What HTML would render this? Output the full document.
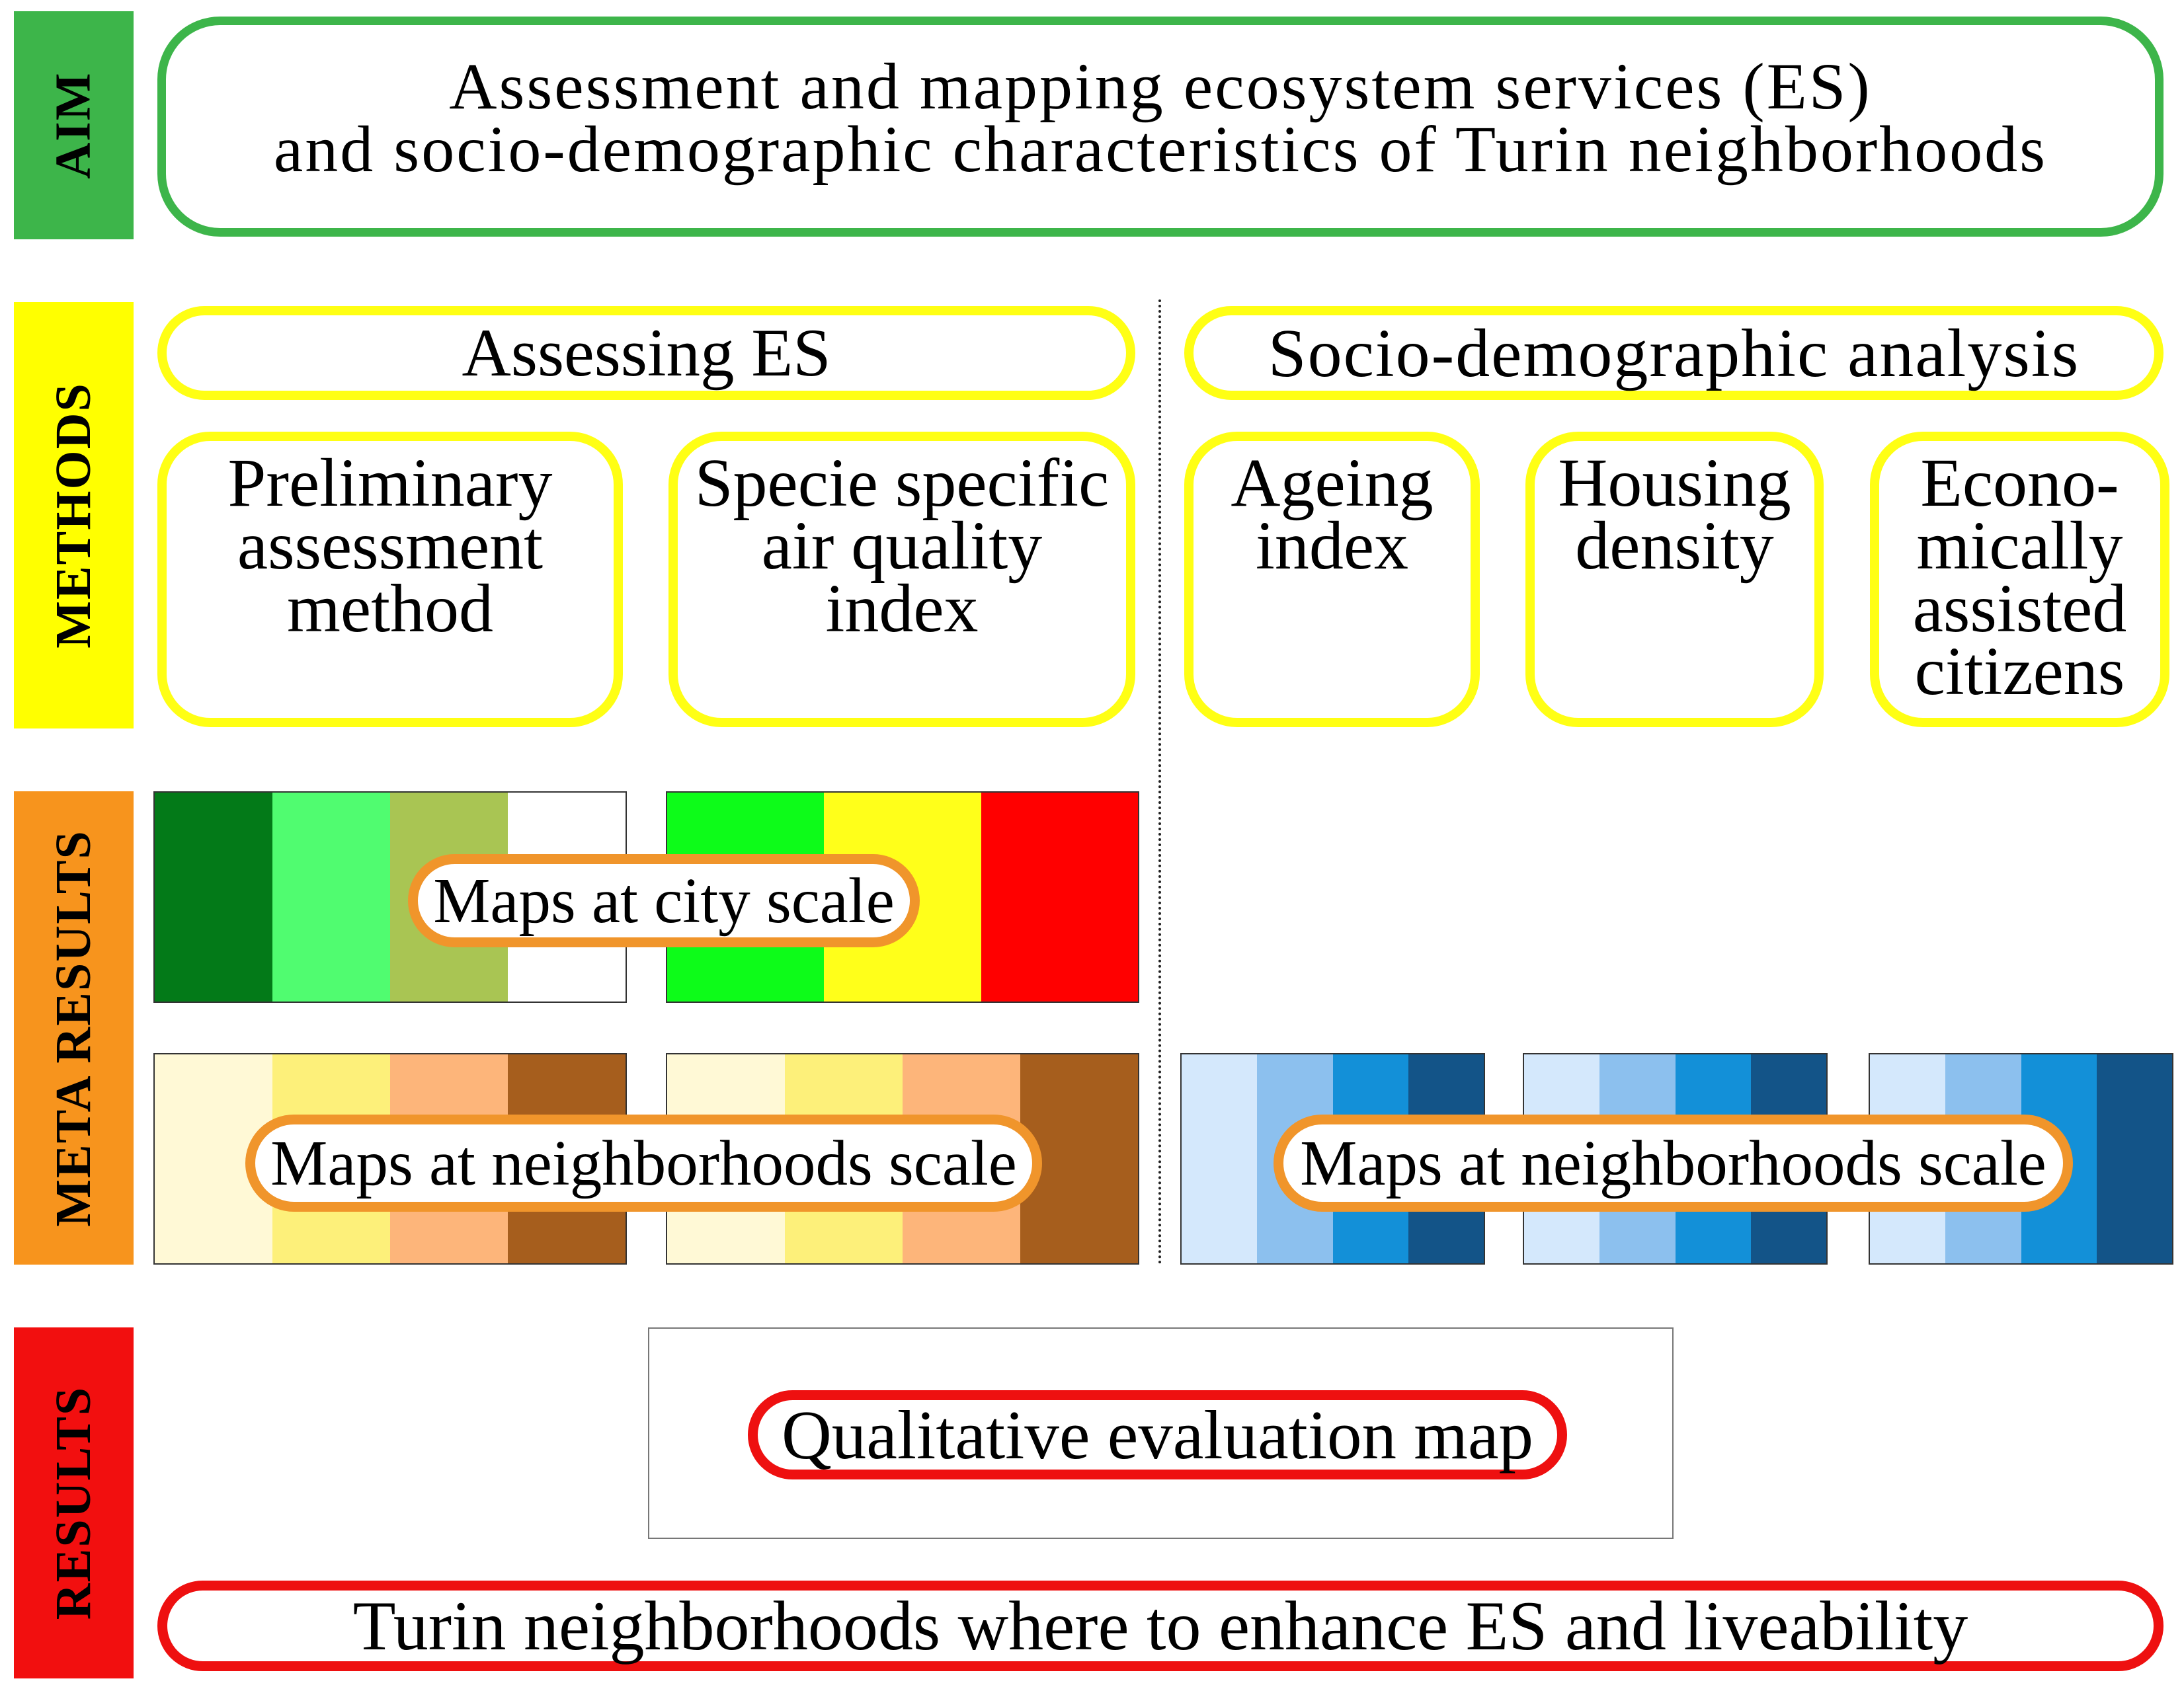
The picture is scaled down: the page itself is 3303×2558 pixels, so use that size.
<!DOCTYPE html>
<html><head><meta charset="utf-8"><style>
*{margin:0;padding:0;box-sizing:border-box}
body{width:3303px;height:2558px;background:#fff;position:relative;overflow:hidden;font-family:"Liberation Serif",serif;color:#000}
.a{position:absolute}
.bar{position:absolute;left:21px;width:181px;display:flex;align-items:center;justify-content:center}
.bar span{transform:rotate(-90deg);white-space:nowrap;font-weight:bold;font-size:76px;letter-spacing:2px}
.box{position:absolute;border-style:solid;background:#fff;display:flex;flex-direction:column;align-items:center;text-align:center}
.y{border-color:#ffff14;border-width:14px}
.sm{border-radius:80px;padding-top:16px;font-size:104px;line-height:95px;white-space:nowrap}
.stripes{position:absolute;display:flex;border:2px solid #333}
.stripes div{flex:1}
.pill{position:absolute;background:#fff;border-radius:200px;display:flex;align-items:center;justify-content:center;white-space:nowrap;font-size:97px;letter-spacing:0}
.o{border:15px solid #f0952b}
.r{border:15px solid #ee1010}
</style></head><body>
<div class="bar" style="top:17px;height:345px;background:#3db54a"><span>AIM</span></div>
<div class="bar" style="top:457px;height:645px;background:#ffff00"><span>METHODS</span></div>
<div class="bar" style="top:1197px;height:716px;background:#f7941d"><span>META RESULTS</span></div>
<div class="bar" style="top:2008px;height:531px;background:#f20f0f"><span>RESULTS</span></div>

<div class="box" style="left:238px;top:25px;width:3034px;height:333px;border:13px solid #3db54a;border-radius:95px;justify-content:center;font-size:100px;line-height:95px;letter-spacing:3px">
<div style="margin-top:-28px">Assessment and mapping ecosystem services (ES)<br>and socio-demographic characteristics of Turin neighborhoods</div></div>

<div class="box y" style="left:238px;top:463px;width:1479px;height:142px;border-radius:80px;justify-content:center;font-size:103px">Assessing ES</div>
<div class="box y" style="left:1791px;top:463px;width:1481px;height:142px;border-radius:80px;justify-content:center;font-size:104px;letter-spacing:2px">Socio-demographic analysis</div>

<div class="a" style="left:1752px;top:453px;height:1460px;border-left:4px dotted #222"></div>

<div class="box y sm" style="left:238px;top:653px;width:704px;height:447px">Preliminary<br>assessment<br>method</div>
<div class="box y sm" style="left:1011px;top:653px;width:706px;height:447px">Specie specific<br>air quality<br>index</div>
<div class="box y sm" style="left:1791px;top:653px;width:447px;height:447px">Ageing<br>index</div>
<div class="box y sm" style="left:2307px;top:653px;width:451px;height:447px">Housing<br>density</div>
<div class="box y sm" style="left:2828px;top:653px;width:453px;height:447px">Econo-<br>mically<br>assisted<br>citizens</div>

<div class="stripes" style="left:232px;top:1197px;width:716px;height:320px"><div style="background:#037a18"></div><div style="background:#50fc70"></div><div style="background:#a9c553"></div><div style="background:#fff"></div></div>
<div class="stripes" style="left:1007px;top:1197px;width:716px;height:320px"><div style="background:#0dfc19"></div><div style="background:#ffff1a"></div><div style="background:#ff0000"></div></div>
<div class="stripes" style="left:232px;top:1593px;width:716px;height:320px"><div style="background:#fff9d6"></div><div style="background:#fdf07a"></div><div style="background:#fdb57a"></div><div style="background:#a65e1d"></div></div>
<div class="stripes" style="left:1007px;top:1593px;width:716px;height:320px"><div style="background:#fff9d6"></div><div style="background:#fdf07a"></div><div style="background:#fdb57a"></div><div style="background:#a65e1d"></div></div>
<div class="stripes" style="left:1785px;top:1593px;width:461px;height:320px"><div style="background:#d4e8fc"></div><div style="background:#8cc0ee"></div><div style="background:#1390d8"></div><div style="background:#135488"></div></div>
<div class="stripes" style="left:2303px;top:1593px;width:461px;height:320px"><div style="background:#d4e8fc"></div><div style="background:#8cc0ee"></div><div style="background:#1390d8"></div><div style="background:#135488"></div></div>
<div class="stripes" style="left:2826px;top:1593px;width:461px;height:320px"><div style="background:#d4e8fc"></div><div style="background:#8cc0ee"></div><div style="background:#1390d8"></div><div style="background:#135488"></div></div>

<div class="pill o" style="left:617px;top:1292px;width:774px;height:141px">Maps at city scale</div>
<div class="pill o" style="left:371px;top:1686px;width:1205px;height:147px">Maps at neighborhoods scale</div>
<div class="pill o" style="left:1926px;top:1686px;width:1209px;height:147px">Maps at neighborhoods scale</div>

<div class="a" style="left:980px;top:2008px;width:1551px;height:320px;border:2px solid #777"></div>
<div class="pill r" style="left:1131px;top:2103px;width:1239px;height:135px;font-size:105px">Qualitative evaluation map</div>
<div class="pill r" style="left:238px;top:2391px;width:3034px;height:137px;font-size:106px">Turin neighborhoods where to enhance ES and liveability</div>
</body></html>
